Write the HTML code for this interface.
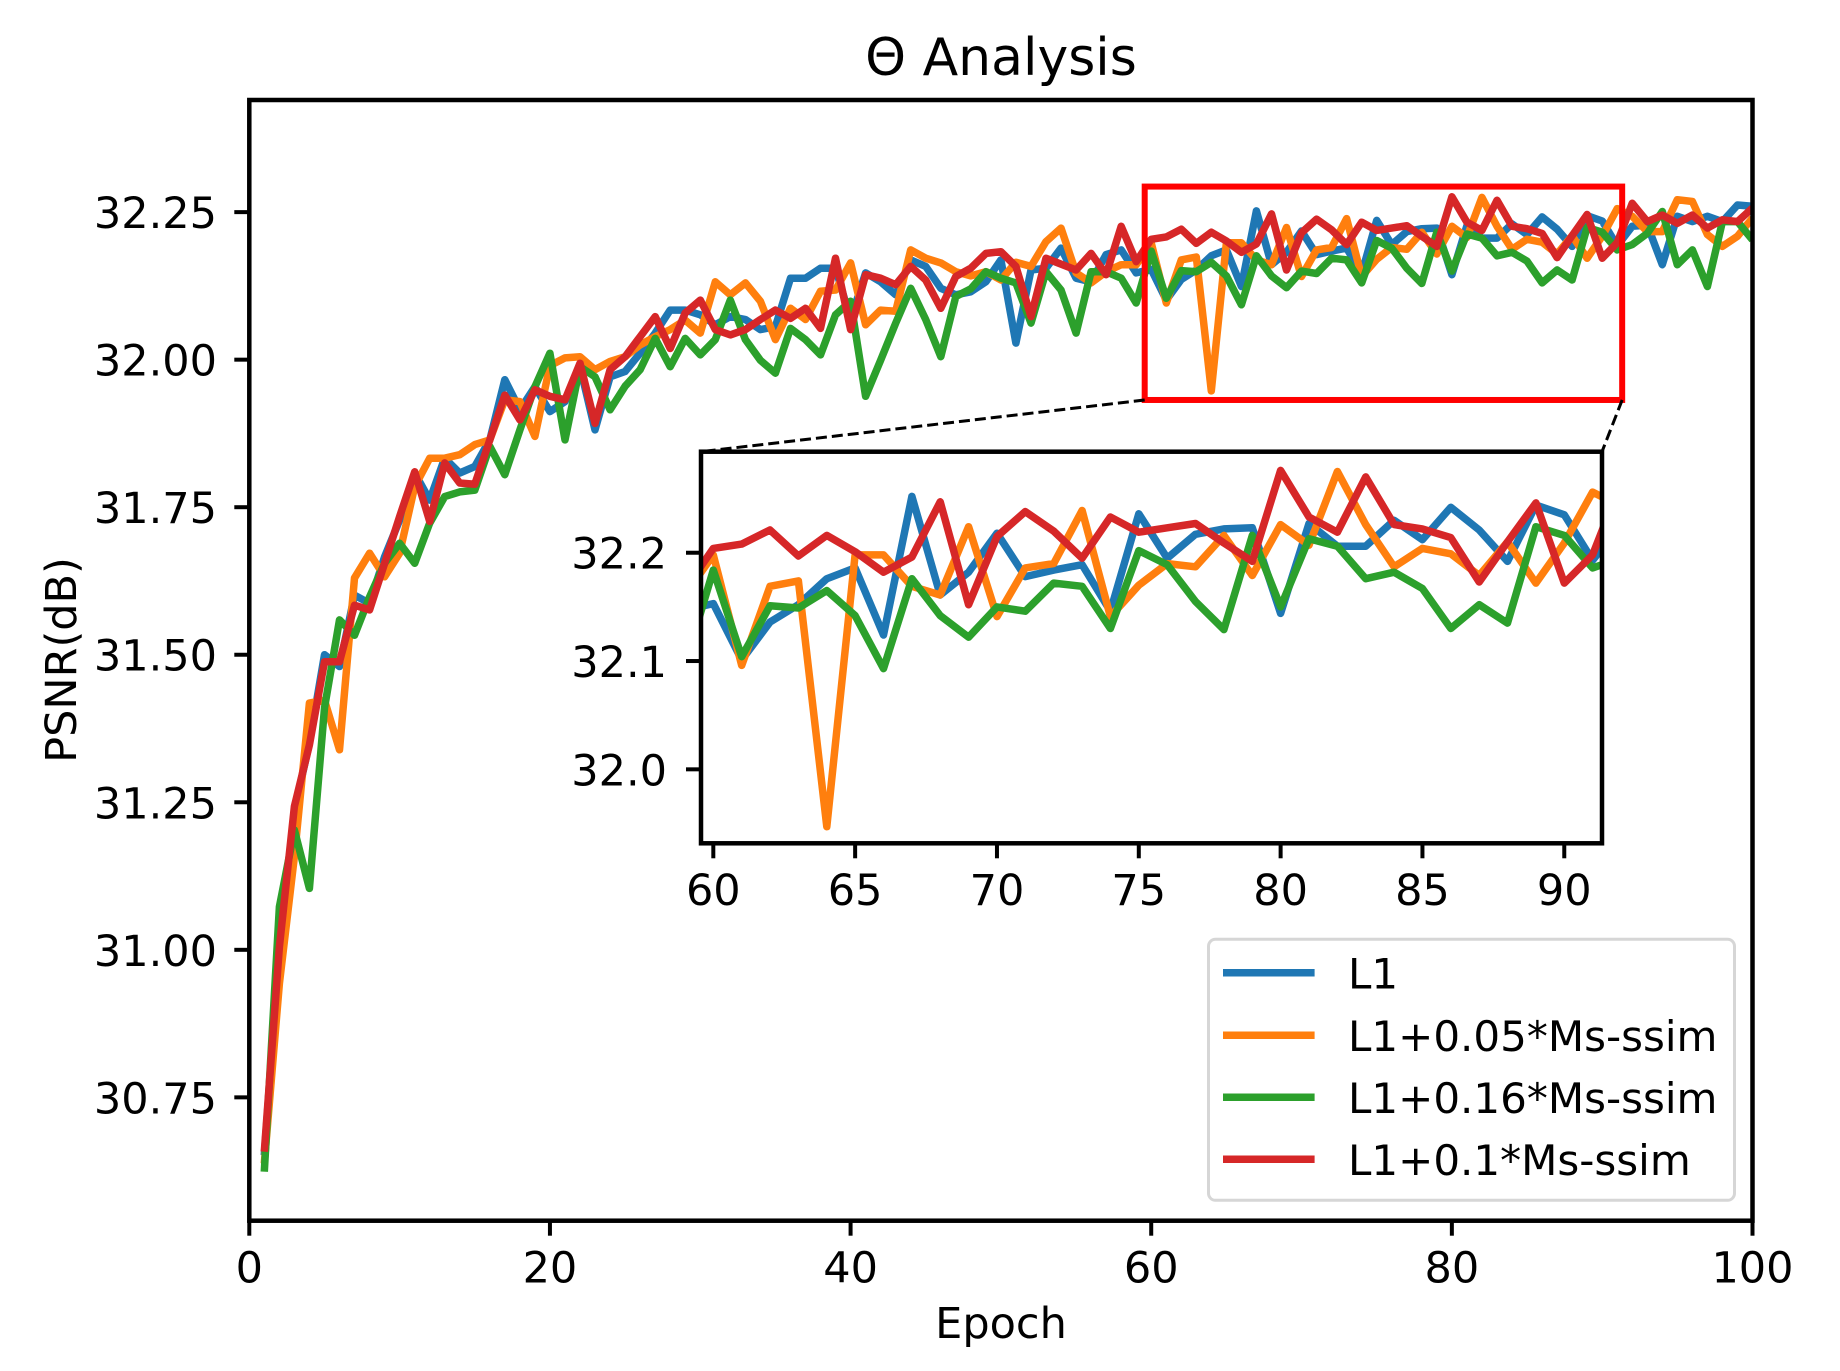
<!DOCTYPE html>
<html><head><meta charset="utf-8"><style>
html,body{margin:0;padding:0;background:#fff;overflow:hidden;width:1840px;height:1371px}
svg{display:block;position:absolute;left:0;top:0}
text{font-family:"DejaVu Sans","Liberation Sans",sans-serif;fill:#000}
</style></head><body>
<svg id="chart" width="1840" height="1371" viewBox="0 0 1840 1371" xmlns="http://www.w3.org/2000/svg">
<rect x="0" y="0" width="1840" height="1371" fill="#fff"/>
<defs>
<clipPath id="mainClip"><rect x="249.3" y="100" width="1503.2" height="1120.7"/></clipPath>
<clipPath id="insetClip"><rect x="701" y="451.7" width="901" height="391.6"/></clipPath>
</defs>
<g id="main"></g>
<g id="inset"></g>
<g id="legend"></g>
<text x="1001" y="75" font-size="52" text-anchor="middle">Θ Analysis</text>
<text x="1001" y="1338" font-size="43" text-anchor="middle">Epoch</text>
<text x="0" y="0" font-size="43" text-anchor="middle" transform="translate(76,660) rotate(-90)">PSNR(dB)</text>
</svg>
<script>
const seriesNames = ["L1", "L1+0.05*Ms-ssim", "L1+0.16*Ms-ssim", "L1+0.1*Ms-ssim"];
const seriesColors = ["#1f77b4", "#ff7f0e", "#2ca02c", "#d62728"];
const epochs = Array.from({length: 100}, (_, i) => i + 1);
const l1Values = [30.652,31.00,31.237,31.35,31.50,31.48,31.601,31.587,31.666,31.728,31.808,31.762,31.833,31.808,31.819,31.864,31.966,31.915,31.954,31.912,31.929,31.988,31.881,31.971,31.980,32.011,32.045,32.084,32.084,32.076,32.059,32.073,32.068,32.051,32.056,32.138,32.138,32.155,32.155,32.068,32.147,32.132,32.110,32.169,32.158,32.121,32.110,32.115,32.132,32.169,32.028,32.152,32.155,32.189,32.138,32.132,32.178,32.186,32.147,
32.153,32.101,32.136,32.152,32.176,32.186,32.124,32.252,32.161,32.182,32.218,32.178,32.184,32.189,32.146,32.236,32.195,
32.217,32.222,32.223,32.144,32.227,32.206,32.206,32.230,32.212,32.242,32.221,32.192,32.244,32.235,32.193,
32.226,32.228,32.161,32.243,32.234,32.243,32.234,32.262,32.260];
const l1Ms005Values = [30.638,30.943,31.158,31.418,31.423,31.339,31.630,31.672,31.632,31.672,31.785,31.833,31.833,31.839,31.856,31.864,31.932,31.929,31.870,31.99,32.003,32.005,31.983,31.997,32.005,32.025,32.039,32.051,32.067,32.045,32.132,32.110,32.130,32.099,32.034,32.087,32.068,32.116,32.118,32.164,32.059,32.084,32.082,32.186,32.172,32.164,32.149,32.142,32.149,32.135,32.165,32.158,32.200,32.223,32.147,32.130,32.149,32.161,32.161,
32.198,32.096,32.169,32.174,31.947,32.198,32.198,32.169,32.161,32.224,32.141,32.186,32.190,32.239,32.141,32.170,32.190,
32.187,32.216,32.179,32.226,32.207,32.275,32.226,32.187,32.204,32.199,32.179,32.210,32.172,32.209,32.256,
32.243,32.217,32.217,32.271,32.268,32.212,32.192,32.209,32.240];
const l1Ms016Values = [30.624,31.073,31.203,31.104,31.41,31.559,31.533,31.598,31.655,31.689,31.655,31.723,31.768,31.776,31.779,31.853,31.805,31.881,31.954,32.011,31.864,31.988,31.971,31.915,31.955,31.983,32.036,31.988,32.036,32.008,32.034,32.101,32.034,31.999,31.977,32.053,32.034,32.008,32.076,32.099,31.938,31.999,32.062,32.121,32.068,32.005,32.107,32.12,32.149,32.138,32.130,32.062,32.149,32.118,32.045,32.149,32.149,32.138,32.096,
32.184,32.104,32.151,32.149,32.165,32.142,32.093,32.176,32.142,32.122,32.150,32.146,32.172,32.169,32.130,32.202,32.189,
32.155,32.129,32.216,32.150,32.213,32.206,32.176,32.182,32.167,32.130,32.152,32.135,32.224,32.216,32.186,
32.195,32.214,32.251,32.161,32.186,32.124,32.234,32.234,32.203];
const l1Ms01Values = [30.658,31.005,31.243,31.347,31.488,31.488,31.584,31.576,31.655,31.734,31.810,31.726,31.825,31.791,31.789,31.864,31.940,31.898,31.949,31.938,31.932,31.994,31.892,31.983,32.005,32.039,32.073,32.019,32.079,32.101,32.051,32.042,32.051,32.068,32.084,32.070,32.087,32.053,32.172,32.051,32.144,32.138,32.127,32.158,32.135,32.087,32.141,32.155,32.180,32.183,32.158,32.073,32.172,32.162,32.152,32.180,32.144,32.226,32.166,
32.204,32.208,32.221,32.197,32.216,32.201,32.182,32.196,32.247,32.152,32.215,32.238,32.220,32.195,32.233,32.219,32.223,
32.227,32.209,32.192,32.276,32.233,32.219,32.270,32.226,32.222,32.214,32.173,32.210,32.246,32.172,32.198,
32.265,32.234,32.245,32.231,32.245,32.223,32.237,32.234,32.257];
const mainXTicks = [0, 20, 40, 60, 80, 100];
const mainYTicks = [30.75, 31.00, 31.25, 31.50, 31.75, 32.00, 32.25];
const mainYTickLabels = ["30.75", "31.00", "31.25", "31.50", "31.75", "32.00", "32.25"];
const insetXTicks = [60, 65, 70, 75, 80, 85, 90];
const insetYTicks = [32.0, 32.1, 32.2];
const insetYTickLabels = ["32.0", "32.1", "32.2"];
const zoomRange = [59.566, 91.33, 31.9317, 32.2933];

const allSeries = [l1Values, l1Ms005Values, l1Ms016Values, l1Ms01Values];
const NS = "http://www.w3.org/2000/svg";
function mk(tag, attrs, parent) {
  const el = document.createElementNS(NS, tag);
  for (const k in attrs) el.setAttribute(k, attrs[k]);
  parent.appendChild(el);
  return el;
}
function scale(d0, d1, r0, r1) { return v => r0 + (v - d0) * (r1 - r0) / (d1 - d0); }

const M = {l: 249.3, r: 1752.5, t: 100, b: 1220.7};
const mx = scale(0, 100, M.l, M.r);
const my = scale(30.541, 32.44, M.b, M.t);
const I = {l: 701, r: 1602, t: 451.7, b: 843.3};
const ix = scale(zoomRange[0], zoomRange[1], I.l, I.r);
const iy = scale(zoomRange[2], zoomRange[3], I.b, I.t);
const LW = 7.5;

const main = document.getElementById('main');
const inset = document.getElementById('inset');
const legend = document.getElementById('legend');

const mainLines = mk('g', {'clip-path': 'url(#mainClip)'}, main);


allSeries.forEach((vals, s) => {
  const pts = vals.map((v, i) => mx(epochs[i]).toFixed(1) + ',' + my(v).toFixed(1)).join(' ');
  const pl = mk('polyline', {points: pts, fill: 'none', stroke: seriesColors[s], 'stroke-width': LW, 'stroke-linejoin': 'round', 'stroke-linecap': 'butt'}, mainLines);
  
  
});
const mainFrame = mk('rect', {x: M.l, y: M.t, width: M.r - M.l, height: M.b - M.t, fill: 'none', stroke: '#000', 'stroke-width': 4.5}, main);


mainXTicks.forEach(t => {
  const x = mx(t);
  const tk = mk('line', {x1: x, x2: x, y1: M.b, y2: M.b + 15, stroke: '#000', 'stroke-width': 4}, main);
  
  
  const lb = mk('text', {x: x, y: M.b + 62, 'font-size': 43, 'text-anchor': 'middle'}, main);
  lb.textContent = String(t);
  
  
});
mainYTicks.forEach((t, i) => {
  const y = my(t);
  const tk = mk('line', {x1: M.l - 15, x2: M.l, y1: y, y2: y, stroke: '#000', 'stroke-width': 4}, main);
  
  
  const lb = mk('text', {x: 217, y: y + 16, 'font-size': 43, 'text-anchor': 'end'}, main);
  lb.textContent = mainYTickLabels[i];
  
  
});
const zx0 = mx(zoomRange[0]), zx1 = mx(zoomRange[1]), zy0 = my(zoomRange[2]), zy1 = my(zoomRange[3]);
const zr = mk('rect', {x: zx0, y: zy1, width: zx1 - zx0, height: zy0 - zy1, fill: 'none', stroke: '#ff0000', 'stroke-width': 6}, main);


const c1 = mk('line', {x1: zx0, y1: zy0, x2: I.l, y2: I.t, stroke: '#000', 'stroke-width': 3, 'stroke-dasharray': '11,5'}, main);


const c2 = mk('line', {x1: zx1, y1: zy0, x2: I.r, y2: I.t, stroke: '#000', 'stroke-width': 3, 'stroke-dasharray': '11,5'}, main);



const ibg = mk('rect', {x: I.l, y: I.t, width: I.r - I.l, height: I.b - I.t, fill: '#fff'}, inset);


const insetLines = mk('g', {'clip-path': 'url(#insetClip)'}, inset);


allSeries.forEach((vals, s) => {
  const pts = vals.map((v, i) => ix(epochs[i]).toFixed(1) + ',' + iy(v).toFixed(1)).join(' ');
  const pl = mk('polyline', {points: pts, fill: 'none', stroke: seriesColors[s], 'stroke-width': LW, 'stroke-linejoin': 'round'}, insetLines);
  
  
});
const iframe = mk('rect', {x: I.l, y: I.t, width: I.r - I.l, height: I.b - I.t, fill: 'none', stroke: '#000', 'stroke-width': 4.5}, inset);


insetXTicks.forEach(t => {
  const x = ix(t);
  const tk = mk('line', {x1: x, x2: x, y1: I.b, y2: I.b + 15, stroke: '#000', 'stroke-width': 4}, inset);
  
  
  const lb = mk('text', {x: x, y: 905, 'font-size': 43, 'text-anchor': 'middle'}, inset);
  lb.textContent = String(t);
  
  
});
insetYTicks.forEach((t, i) => {
  const y = iy(t);
  const tk = mk('line', {x1: I.l - 15, x2: I.l, y1: y, y2: y, stroke: '#000', 'stroke-width': 4}, inset);
  
  
  const lb = mk('text', {x: 667, y: y + 16, 'font-size': 43, 'text-anchor': 'end'}, inset);
  lb.textContent = insetYTickLabels[i];
  
  
});

const lbox = mk('rect', {x: 1208.5, y: 939.3, width: 526, height: 261, rx: 7, fill: '#fff', 'fill-opacity': 0.8, stroke: '#d6d6d6', 'stroke-width': 3}, legend);


const legendY = [972.7, 1035.3, 1097.3, 1159.3];
seriesNames.forEach((n, s) => {
  const g = mk('g', {}, legend);
  
  
  const ln = mk('line', {x1: 1223, x2: 1314.6, y1: legendY[s], y2: legendY[s], stroke: seriesColors[s], 'stroke-width': LW}, g);
  
  
  const tx = mk('text', {x: 1348, y: legendY[s] + 15.6, 'font-size': 42}, g);
  tx.textContent = n;
  
  
});
</script>
</body></html>
